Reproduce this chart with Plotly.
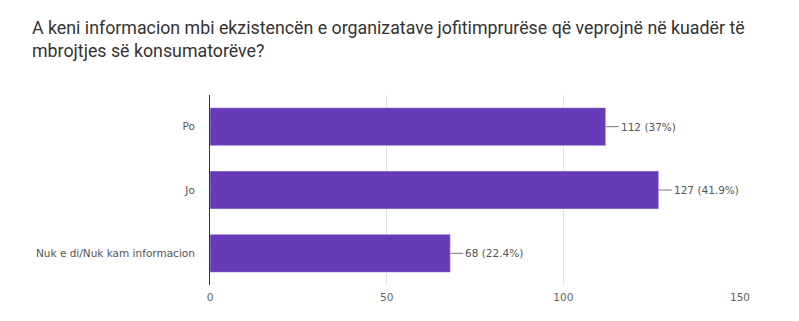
import plotly.graph_objects as go

categories = ["Po", "Jo", "Nuk e di/Nuk kam informacion"]
values = [112, 127, 68]
labels = ["112 (37%)", "127 (41.9%)", "68 (22.4%)"]
tick_vals = [0, 50, 100, 150]

title_lines = [
    "A keni informacion mbi ekzistencën e organizatave jofitimprurëse që veprojnë në kuadër të",
    "mbrojtjes së konsumatorëve?",
]

small_font = "DejaVu Sans, Arial"

fig = go.Figure()
fig.add_trace(go.Bar(
    y=categories, x=values, orientation="h",
    marker=dict(color="#673ab7"), width=0.6, hoverinfo="skip",
))

for c, v, t in zip(categories, values, labels):
    fig.add_annotation(
        x=v, y=c, text=t, showarrow=True, arrowhead=0, arrowwidth=1,
        arrowcolor="#777", ax=13, ay=0, xanchor="left", standoff=0,
        font=dict(family=small_font, size=10.5, color="#555"),
    )

for i, line in enumerate(title_lines):
    fig.add_annotation(
        xref="paper", yref="paper", x=-0.34, y=1.0, yshift=68 - 23 * i,
        text=line, showarrow=False, xanchor="left", yanchor="middle", align="left",
        font=dict(family="Roboto, Arial", size=17.8, color="#333"),
    )

fig.update_layout(
    width=799, height=321,
    margin=dict(l=210, r=59, t=95, b=36),
    paper_bgcolor="white", plot_bgcolor="white",
    showlegend=False,
    font=dict(family=small_font, size=10.5, color="#555"),
)
fig.update_xaxes(
    range=[0, 150], tickvals=tick_vals, showgrid=True, gridcolor="#e3e3e3",
    zeroline=False, showline=False, ticks="", ticklabelstandoff=4,
    tickfont=dict(family=small_font, size=10.5, color="#666"),
)
fig.update_yaxes(
    categoryorder="array", categoryarray=categories[::-1],
    showline=True, linecolor="#333", linewidth=1, ticks="", ticklabelstandoff=12,
    tickfont=dict(family=small_font, size=10.5, color="#555"),
)

fig.write_html("out.html")
